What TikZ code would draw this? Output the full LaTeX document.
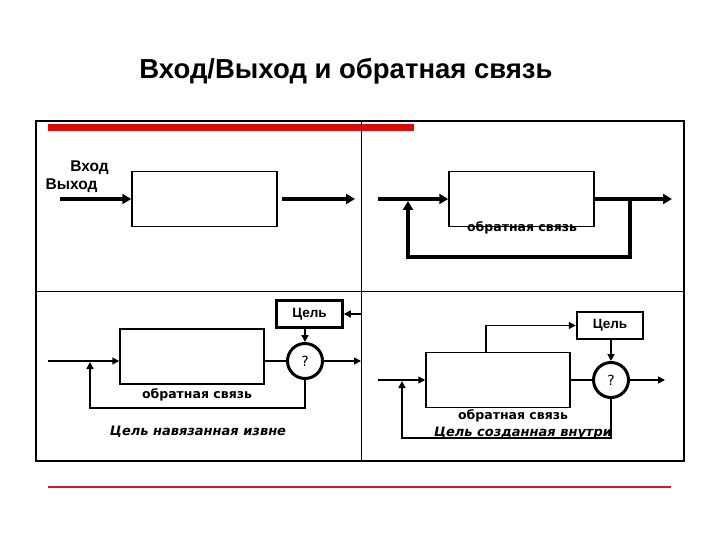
\documentclass[tikz,border=0pt]{standalone}
\usepackage{fontspec}
\setmainfont{Liberation Sans}
\newfontfamily\dejavu{DejaVu Sans}
\usetikzlibrary{arrows.meta}

\definecolor{barred}{RGB}{220,10,10}
\definecolor{linered}{RGB}{205,30,30}

\begin{document}
\begin{tikzpicture}[x=1pt,y=-1pt,
  blk/.style={draw, line width=1.5pt, minimum width=145pt, minimum height=55pt, inner sep=0pt},
  goalbox/.style={draw, line width=2.5pt, minimum width=66pt, minimum height=27pt, inner sep=0pt, font=\bfseries\fontsize{13.5}{13.5}\selectfont},
  cmp/.style={draw, circle, line width=3pt, minimum size=35pt, inner sep=0pt, font=\dejavu\fontsize{14}{14}\selectfont},
  fat/.style={line width=4pt, -{Triangle[length=9pt,width=10pt]}},
  thin/.style={line width=1.5pt, -{Triangle[length=7pt,width=7pt]}},
  thinline/.style={line width=1.5pt},
  lbl/.style={font=\dejavu\bfseries\fontsize{12.5}{12.5}\selectfont},
  ital/.style={font=\dejavu\bfseries\itshape\fontsize{13}{13}\selectfont},
  side/.style={font=\bfseries\fontsize{15.5}{15.5}\selectfont}]
\useasboundingbox (0,0) rectangle (720,540);

% title
\node (title) at (346,71) {\bfseries\fontsize{27.5}{27.5}\selectfont Вход/Выход и обратная связь};

% frame
\fill[barred] (48,124) rectangle (414,131);
\draw[line width=2pt] (36,121) rectangle (684,461);
\draw[line width=1pt] (361,121) -- (361,461);
\draw[line width=1pt] (36,291) -- (684,291);
\draw[linered, line width=1.2pt] (48,487) -- (671,487);

% top left
\node[side] (inlbl) at (89.5,168) {Вход};
\node[side] (outlbl) at (71.5,186) {Выход};
\node[blk] (box1) at (204.5,199) {};
\coordinate (in1) at (60,199);
\coordinate (start1) at (282,199);
\coordinate (out1) at (355,199);
\draw[fat] (in1) -- (box1.west);
\draw[fat] (start1) -- (out1);

% top right
\node[blk] (box2) at (521.5,199) {};
\coordinate (in2) at (378,199);
\coordinate (out2) at (672,199);
\coordinate (tap2) at (630,199);
\coordinate (low2) at (630,257);
\coordinate (join2) at (408,199);
\draw[fat] (in2) -- (box2.west);
\draw[fat] (box2.east) -- (out2);
\draw[fat, shorten >=2pt] (tap2) -- (low2) -| (join2);
\node[lbl] (fb2) at (522,228) {обратная связь};

% bottom left
\node[goalbox] (goal3) at (309.5,314) {Цель};
\node[blk, minimum width=144pt] (box3) at (192,356.5) {};
\node[cmp] (q3) at (305,361) {?};
\coordinate (in3) at (48,361);
\coordinate (join3) at (90,361);
\coordinate (low3) at (90,408);
\coordinate (ext3) at (361,314);
\coordinate (out3) at (361,361);
\draw[thin] (in3) -- (box3.west |- in3);
\draw[thinline] (box3.east |- q3) -- (q3);
\draw[thin] (q3) -- (out3);
\draw[thin] (ext3) -- (goal3.east);
\draw[thin] (goal3.south -| q3) -- (q3.north);
\draw[thin, shorten >=1pt] (q3.south) |- (low3) -- (join3);
\node[lbl] (fb3) at (197,395) {обратная связь};
\node[ital] (ext3lbl) at (198,432) {Цель навязанная извне};

% bottom right
\node[goalbox] (goal4) at (610,325.5) {Цель};
\node[blk, minimum width=144pt] (box4) at (498,380) {};
\node[cmp] (q4) at (611,380) {?};
\coordinate (in4) at (378,380);
\coordinate (join4) at (402,380);
\coordinate (low4) at (402,438);
\coordinate (up4) at (486,325.5);
\coordinate (out4) at (665,380);
\draw[thin] (in4) -- (box4.west);
\draw[thinline] (box4.east) -- (q4);
\draw[thin] (q4) -- (out4);
\draw[thin] (box4.north -| up4) -- (up4) -- (goal4.west);
\draw[thin] (goal4.south -| q4) -- (q4.north);
\draw[thin, shorten >=1pt] (q4.south) |- (low4) -- (join4);
\node[lbl] (fb4) at (513,416) {обратная связь};
\node[ital] (int4lbl) at (523,433) {Цель созданная внутри};
\end{tikzpicture}
\end{document}
